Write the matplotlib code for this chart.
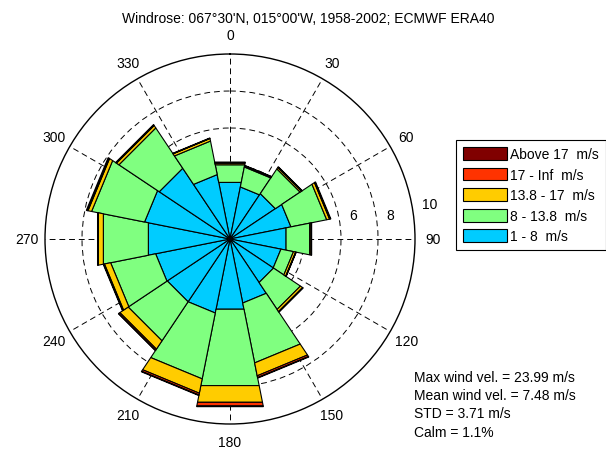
import numpy as np
import matplotlib
matplotlib.use('Agg')
import matplotlib.pyplot as plt

plt.rcParams['font.family'] = ['Liberation Sans', 'DejaVu Sans']

# directions N, NNE, NE, ... NNW (deg, clockwise from north)
directions = np.arange(0, 360, 22.5)

# frequency (%) per speed class and direction
speed_1_8 = [3.12, 2.87, 2.95, 3.36, 3.09, 2.81, 2.83, 3.53,
             3.87, 4.08, 4.08, 4.10, 4.50, 4.71, 4.60, 3.55]
speed_8_138 = [0.97, 1.10, 1.61, 1.97, 1.30, 0.69, 1.75, 3.30,
               4.21, 3.63, 2.54, 2.48, 2.48, 2.92, 2.62, 1.85]
speed_138_17 = [0.09, 0.05, 0.09, 0.16, 0.08, 0.12, 0.14, 0.71,
                0.92, 0.79, 0.54, 0.34, 0.28, 0.20, 0.16, 0.14]
speed_17_inf = [0.03, 0.02, 0.02, 0.03, 0.01, 0.02, 0.02, 0.10,
                0.20, 0.10, 0.08, 0.04, 0.02, 0.03, 0.03, 0.01]
speed_above_17 = [0.03, 0.02, 0.03, 0.04, 0.02, 0.01, 0.02, 0.03,
                  0.04, 0.03, 0.02, 0.03, 0.02, 0.06, 0.03, 0.02]

class_labels = ['1 - 8  m/s', '8 - 13.8  m/s', '13.8 - 17  m/s',
                '17 - Inf  m/s', 'Above 17  m/s']
class_colors = ['#00CCFF', '#80FF80', '#FFCC00', '#FF3300', '#800000']

ring_values = [6, 8, 10]
angle_ticks = np.arange(0, 360, 30)

title = "Windrose: 067°30'N, 015°00'W, 1958-2002; ECMWF ERA40"
stats = ["Max wind vel. = 23.99 m/s", "Mean wind vel. = 7.48 m/s",
         "STD = 3.71 m/s", "Calm = 1.1%"]

fs = 10
fig = plt.figure(figsize=(6.06, 4.56), dpi=100)
ax = fig.add_axes([45/606, 31/456, 370/606, 370/456], projection='polar')
ax.set_theta_zero_location('N')
ax.set_theta_direction(-1)
ax.set_ylim(0, 10)

theta = np.deg2rad(directions)
width = np.deg2rad(22.5)
bottom = np.zeros(len(directions))
handles = []
series = [speed_1_8, speed_8_138, speed_138_17, speed_17_inf, speed_above_17]
for vals, col, lab in zip(series, class_colors, class_labels):
    vals = np.array(vals)
    bars = ax.bar(theta, vals, width=width, bottom=bottom, color=col,
                  edgecolor='black', linewidth=0.8, label=lab, zorder=3)
    # flat bar tops like the original
    for b in bars:
        b.get_path()._interpolation_steps = 1
    bottom += vals
    handles.append(bars)

# grid
ax.set_xticks(np.deg2rad(angle_ticks))
ax.set_yticks([2, 4, 6, 8])
ax.set_xticklabels([])
ax.set_yticklabels([])
ax.grid(True, color='black', linestyle=(0, (6, 4)), linewidth=0.7)
ax.spines['polar'].set_linewidth(1.0)
ax.tick_params(length=0)

for a in angle_ticks:
    ax.text(np.deg2rad(a), 11.0, str(a), ha='center', va='center',
            fontsize=fs, clip_on=False)
for rv, rt, rr in zip(ring_values, [79, 81.5, 80], [6.8, 8.75, 10.95]):
    ax.text(np.deg2rad(rt), rr, str(rv), ha='center', va='center',
            fontsize=fs, clip_on=False)

fig.text(308/606, 1 - 19/456, title, ha='center', va='center', fontsize=fs)

leg = fig.legend(handles[::-1], class_labels[::-1], loc='upper left',
                 bbox_to_anchor=(456/606, 1 - 141/456), fontsize=fs,
                 fancybox=False, edgecolor='black', framealpha=1,
                 handlelength=3.15, handleheight=1.05, handletextpad=0.25,
                 labelspacing=0.46, borderpad=0.5, borderaxespad=0)
leg.get_frame().set_linewidth(0.8)

fig.text(414/606, 1 - 371/456, "\n".join(stats), ha='left', va='top',
         fontsize=fs, linespacing=1.38)

fig.savefig('out.png', dpi=100)
